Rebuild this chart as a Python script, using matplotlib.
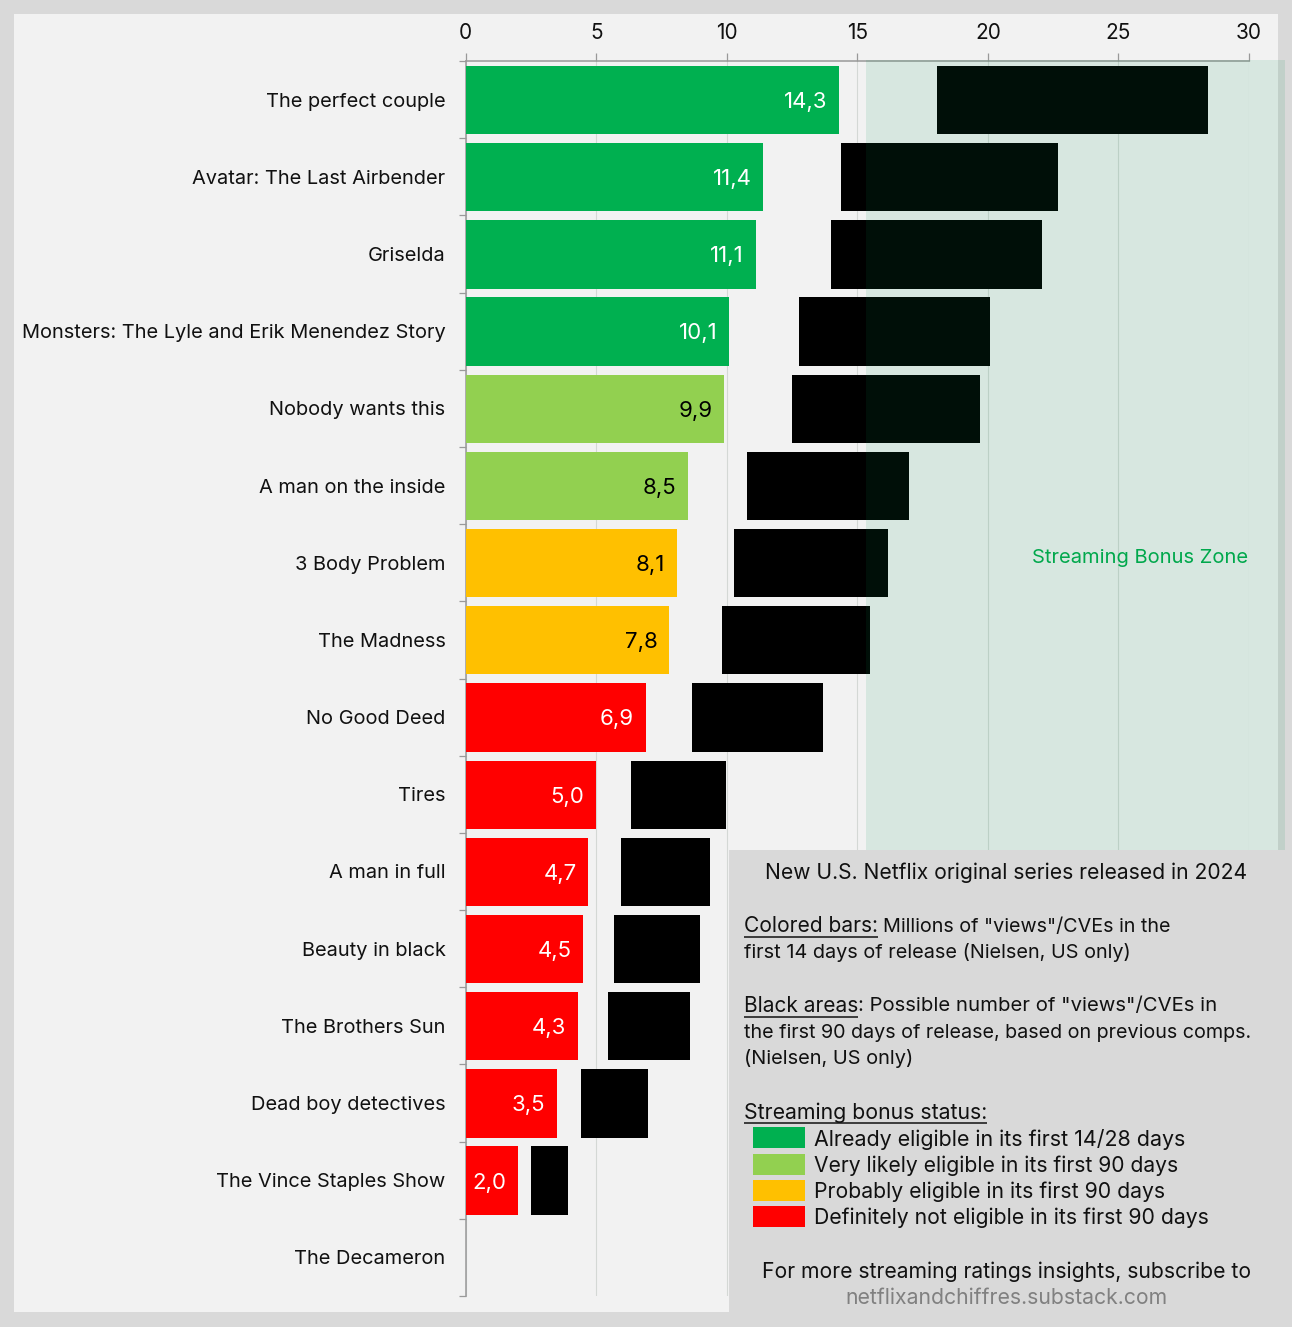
import matplotlib
matplotlib.use("Agg")
import matplotlib.pyplot as plt
from matplotlib.patches import Rectangle

plt.rcParams["font.family"] = ["Inter", "DejaVu Sans"]

W, H = 1292, 1327

titles = ["The perfect couple", "Avatar: The Last Airbender", "Griselda",
          "Monsters: The Lyle and Erik Menendez Story", "Nobody wants this",
          "A man on the inside", "3 Body Problem", "The Madness", "No Good Deed",
          "Tires", "A man in full", "Beauty in black", "The Brothers Sun",
          "Dead boy detectives", "The Vince Staples Show", "The Decameron"]
views_14d = [14.3, 11.4, 11.1, 10.1, 9.9, 8.5, 8.1, 7.8, 6.9, 5.0, 4.7, 4.5, 4.3, 3.5, 2.0, None]
proj_low = [18.05, 14.37, 14.0, 12.75, 12.5, 10.77, 10.27, 9.8, 8.67, 6.35, 5.95, 5.68, 5.45, 4.4, 2.5, None]
proj_high = [28.43, 22.7, 22.08, 20.07, 19.7, 16.97, 16.17, 15.5, 13.7, 9.97, 9.37, 8.97, 8.6, 6.97, 3.9, None]
status = ["a", "a", "a", "a", "b", "b", "c", "c", "d", "d", "d", "d", "d", "d", "d", None]

colors = {"a": "#00B050", "b": "#92D050", "c": "#FFC000", "d": "#FF0000"}
label_colors = {"a": "white", "b": "black", "c": "black", "d": "white"}
legend_labels = ["Already eligible in its first 14/28 days",
                 "Very likely eligible in its first 90 days",
                 "Probably eligible in its first 90 days",
                 "Definitely not eligible in its first 90 days"]
bonus_start = 15.35

OUTER = "#d9d9d9"
PANEL = "#f2f2f2"
INK = "#111111"

fig = plt.figure(figsize=(W / 100, H / 100), dpi=100, facecolor=OUTER)

# background panel, in pixel coordinates
bg = fig.add_axes([0, 0, 1, 1], zorder=0)
bg.set_xlim(0, W)
bg.set_ylim(H, 0)
bg.axis("off")
bg.add_patch(Rectangle((14, 14), 1264, 1298, color=PANEL, lw=0))

# main chart
left, right, top, bottom = 465.7, 1249, 61, 1296
ax = fig.add_axes([left / W, 1 - bottom / H, (right - left) / W, (bottom - top) / H], zorder=1)
ax.patch.set_alpha(0)
n = len(titles)
ax.set_xlim(0, 30)
ax.set_ylim(n, 0)
centers = [i + 0.5 for i in range(n)]

for i in range(n):
    if views_14d[i] is None:
        continue
    ax.barh(centers[i] + 0.005, views_14d[i], height=0.885, color=colors[status[i]], zorder=3)
    ax.barh(centers[i] + 0.005, proj_high[i] - proj_low[i], left=proj_low[i], height=0.885,
            color="black", zorder=3)
    ax.text(views_14d[i] - 0.45, centers[i] + 0.03, f"{views_14d[i]:.1f}".replace(".", ","),
            color=label_colors[status[i]], ha="right", va="center", fontsize=16, zorder=5)

# green zone sits on top of the black bars, so they get a slight tint
ax.axvspan(bonus_start, 31.38, ymin=1 - 10.22 / n, ymax=1.001, color="#009050", alpha=0.11,
           lw=0, clip_on=False, zorder=4)
ax.text(29.95, 6.44, "Streaming Bonus Zone", color="#00A84C", ha="right", va="center",
        fontsize=14.5, zorder=5)

ax.grid(axis="x", color="#d4d8d5", lw=0.8, zorder=1)
ax.set_axisbelow(True)
ax.xaxis.tick_top()
ax.set_xticks(range(0, 31, 5))
ax.tick_params(axis="x", length=6, width=0.9, color="#999999", labelsize=15, labelcolor=INK, pad=7)
ax.set_yticks(range(n + 1))
ax.set_yticklabels([])
ax.tick_params(axis="y", which="major", length=5, width=0.9, color="#999999")
ax.set_yticks(centers, titles, minor=True)
ax.tick_params(axis="y", which="minor", length=0, labelsize=14.4, labelcolor=INK, pad=14.5)
for side in ["right", "bottom"]:
    ax.spines[side].set_visible(False)
for side in ["left", "top"]:
    ax.spines[side].set_color("#999999")
    ax.spines[side].set_linewidth(1.1)

# info box
ov = fig.add_axes([0, 0, 1, 1], zorder=2)
ov.set_xlim(0, W)
ov.set_ylim(H, 0)
ov.axis("off")
ov.patch.set_alpha(0)
ov.add_patch(Rectangle((729, 850), W - 729, H - 850, color=OUTER, lw=0))

renderer = fig.canvas.get_renderer()


def note(x, y, s, fs=15, underline=False, **kw):
    kw.setdefault("color", INK)
    t = ov.text(x, y, s, va="center", fontsize=fs, **kw)
    bb = t.get_window_extent(renderer)
    if underline:
        ov.plot([bb.x0, bb.x1], [y + 10.5, y + 10.5], color=INK, lw=1.1, solid_capstyle="butt")
    return bb.x1


note(1006.5, 873, "New U.S. Netflix original series released in 2024", fs=15.15, ha="center")
end = note(744, 926.5, "Colored bars:", fs=15.1, underline=True)
note(end + 5, 926.5, 'Millions of "views"/CVEs in the', fs=14.2)
note(744, 953, "first 14 days of release (Nielsen, US only)", fs=14.3)
end = note(744, 1006, "Black areas", fs=15, underline=True)
note(end, 1006, ': Possible number of "views"/CVEs in', fs=14.6)
note(744, 1033, "the first 90 days of release, based on previous comps.", fs=14.2)
note(744, 1059, "(Nielsen, US only)", fs=14.4)
note(744, 1112.5, "Streaming bonus status:", fs=15.3, underline=True)

swatch_y = [1127, 1154, 1180, 1206]
legend_fs = [15.45, 15.2, 15.25, 15.25]
for key, y0, lab, fs in zip(colors, swatch_y, legend_labels, legend_fs):
    ov.add_patch(Rectangle((753, y0), 52, 21, color=colors[key], lw=0))
    note(814, y0 + 12, lab, fs=fs)

note(1006.5, 1272, "For more streaming ratings insights, subscribe to", fs=15.2, ha="center")
note(1006.5, 1298, "netflixandchiffres.substack.com", fs=15.25, ha="center", color="#808080")

fig.savefig("out.png", dpi=100, facecolor=OUTER)
